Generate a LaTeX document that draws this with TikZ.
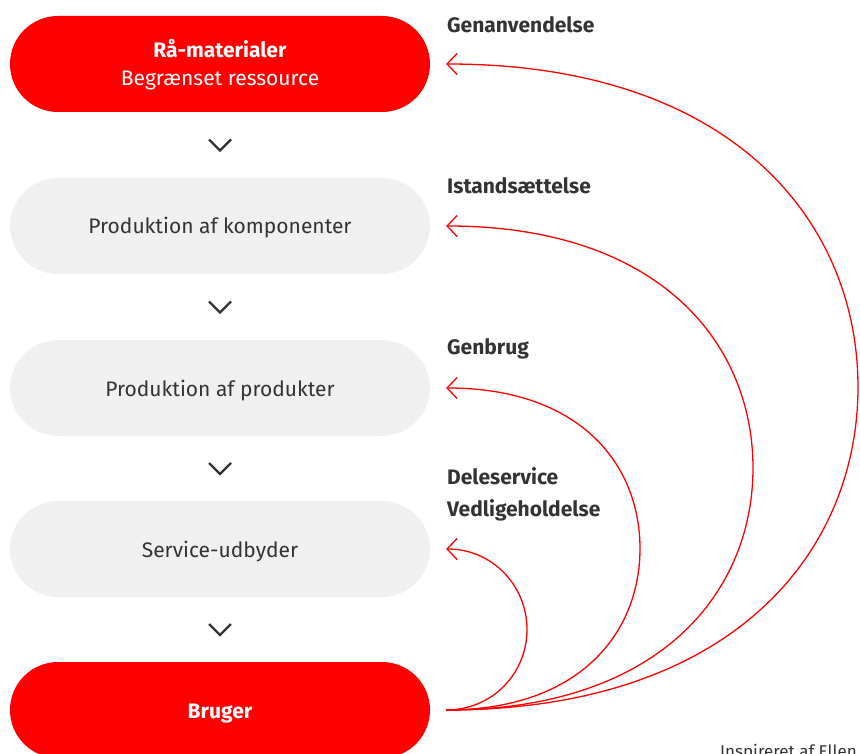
\documentclass[tikz,border=0pt]{standalone}
\usepackage{fontspec}
\setmainfont{Fira Sans}
\usetikzlibrary{arrows.meta,calc}
\definecolor{brandred}{HTML}{FF0000}
\definecolor{boxgray}{HTML}{F0F0F0}
\definecolor{textdark}{HTML}{333333}
\begin{document}
\begin{tikzpicture}[x=1pt,y=-1pt,
  pill/.style={rectangle, rounded corners=48pt, minimum width=420pt, minimum height=96pt,
    inner sep=0pt, align=center, font=\fontsize{21}{28}\selectfont},
  redpill/.style={pill, fill=brandred, text=white},
  graypill/.style={pill, fill=boxgray, text=textdark, text height=16pt, text depth=0pt},
  chev/.style={draw=textdark, line width=2.4pt},
  sidelabel/.style={anchor=base west, inner sep=0pt, text=textdark, font=\fontsize{21}{24}\selectfont\bfseries},
  loop/.style={draw=brandred, line width=1.3pt, shorten <=16pt, shorten >=16pt,
    -{Straight Barb[length=10pt,width=21pt,line width=1.3pt]}},
  credit/.style={anchor=base west, inner sep=0pt, text=textdark, font=\fontsize{17}{20}\selectfont}
]
\useasboundingbox (0,0) rectangle (860,754);
\clip (0,0) rectangle (860,754);

% boxes
\node[redpill, text height=43pt, text depth=0.4pt] (raw) at (220,64) {\textbf{Rå-materialer}\\Begrænset ressource};
\node[graypill] (comp) at (220,226) {Produktion af komponenter};
\node[graypill] (prod) at (220,388) {Produktion af produkter};
\node[graypill] (svc)  at (220,549) {Service-udbyder};
\node[redpill, text height=16pt, text depth=0pt, font=\fontsize{21}{24}\selectfont\bfseries] (user) at (220,710) {Bruger};

% chevrons
\foreach \a/\b [count=\i] in {raw/comp, comp/prod, prod/svc, svc/user}{
  \coordinate (c\i) at ($(\a.south)!0.5!(\b.north)$);
  \draw[chev] ([shift={(-11,-5.5)}]c\i) -- ([shift={(0,5.5)}]c\i) -- ([shift={(11,-5.5)}]c\i);
}

% labels
\node[sidelabel] (lgen) at (447,33) {Genanvendelse};
\node[sidelabel] (list) at (447,194) {Istandsættelse};
\node[sidelabel] (lbrug) at (447,354.5) {Genbrug};
\node[sidelabel] (ldel) at (447,484) {Deleservice};
\node[sidelabel] (lved) at (447,516.5) {Vedligeholdelse};

% rightmost points of the loops
\coordinate (m1) at (527,629.5);
\coordinate (m2) at (640,548.5);
\coordinate (m3) at (753,468);
\coordinate (m4) at (858,387);

% loops
\draw[loop] (user.east) .. controls +(62,0) and +(0,44) .. (m1) .. controls +(0,-44) and +(62,0) .. (svc.east);
\draw[loop] (user.east) .. controls +(150,0) and +(0,84) .. (m2) .. controls +(0,-84) and +(150,0) .. (prod.east);
\draw[loop] (user.east) .. controls +(230,0) and +(0,124) .. (m3) .. controls +(0,-124) and +(230,0) .. (comp.east);
\draw[loop] (user.east) .. controls +(304,0) and +(0,164) .. (m4) .. controls +(0,-164) and +(304,0) .. (raw.east);

% credit
\node[credit] (cred) at (720,757) {Inspireret af Ellen};
\end{tikzpicture}
\end{document}
